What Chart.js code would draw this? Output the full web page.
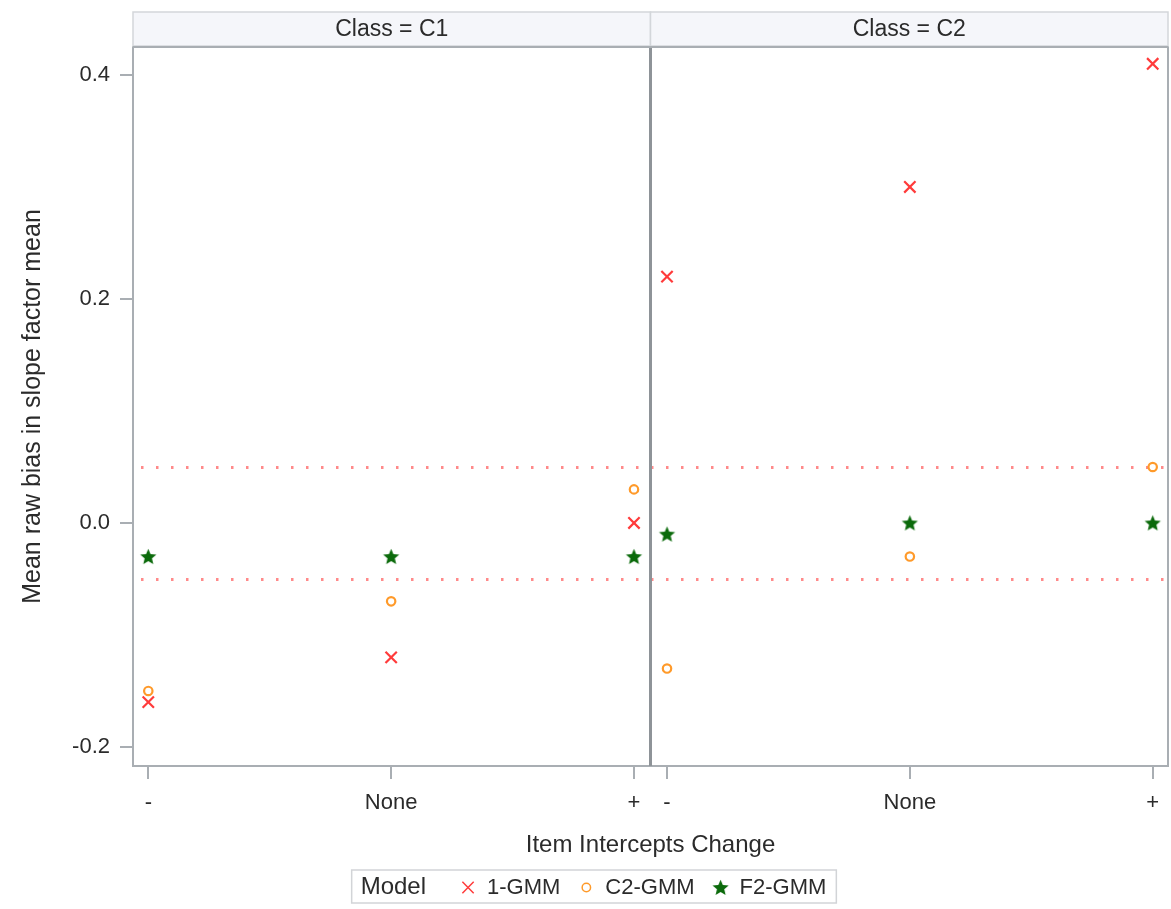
<!DOCTYPE html>
<html>
<head>
<meta charset="utf-8">
<title>Mean raw bias in slope factor mean</title>
<script src="https://cdn.jsdelivr.net/npm/chart.js@4.4.1/dist/chart.umd.min.js"></script>
<style>
  html, body { margin: 0; padding: 0; background: #ffffff; }
  #wrap { position: relative; width: 1171px; height: 909px; }
  canvas { display: block; }
</style>
</head>
<body>
<div id="wrap"><canvas id="chart" width="1171" height="909"></canvas></div>
<script>
// ---- data ----
const panels = ['C1', 'C2'];
const changes = ['-', 'None', '+'];
const yTicks = [-0.2, 0.0, 0.2, 0.4];
const refLines = [-0.05, 0.05];

const gmm1_C1 = [-0.16, -0.12, 0.00];
const gmm1_C2 = [0.22, 0.30, 0.41];
const c2gmm_C1 = [-0.15, -0.07, 0.03];
const c2gmm_C2 = [-0.13, -0.03, 0.05];
const f2gmm_C1 = [-0.03, -0.03, -0.03];
const f2gmm_C2 = [-0.01, 0.00, 0.00];

// ---- layout of the two side-by-side panels on one linear x scale ----
const PANEL_GAP = 0.136;     // space between last category of C1 and first of C2
const EDGE_PAD = 0.063;      // space between panel edge and outer category
const catPos = (panelIdx, catIdx) => catIdx + panelIdx * (changes.length - 1 + PANEL_GAP);
const tickPos = [];
const tickLabels = [];
panels.forEach((p, pi) => changes.forEach((c, ci) => { tickPos.push(catPos(pi, ci)); tickLabels.push(c); }));
const xMin = -EDGE_PAD;
const xMax = catPos(1, changes.length - 1) + EDGE_PAD;
const dividerX = (catPos(0, changes.length - 1) + catPos(1, 0)) / 2;
const panelBounds = [[xMin, dividerX], [dividerX, xMax]];

const FONT = '"Liberation Sans", Arial, Helvetica, sans-serif';
const TEXT = '#2b2b2b';
const AXIS = '#a9aeb3';

// filled five-point star used as a point style
function makeStar(r, color) {
  const s = Math.ceil(r * 2 + 2);
  const c = document.createElement('canvas');
  c.width = s; c.height = s;
  const g = c.getContext('2d');
  g.fillStyle = color;
  g.beginPath();
  for (let i = 0; i < 10; i++) {
    const a = -Math.PI / 2 + i * Math.PI / 5;
    const rr = (i % 2) ? r * 0.45 : r;
    g.lineTo(s / 2 + rr * Math.cos(a), s / 2 + rr * Math.sin(a) + r * 0.08);
  }
  g.closePath();
  g.fill();
  return c;
}
const starImg = makeStar(8.5, '#0b6a0b');

function series(c1, c2) {
  return c1.map((v, i) => ({ x: catPos(0, i), y: v }))
    .concat(c2.map((v, i) => ({ x: catPos(1, i), y: v })));
}

const datasets = [
  {
    label: '1-GMM',
    data: series(gmm1_C1, gmm1_C2),
    pointStyle: 'crossRot', pointRadius: 8, pointBorderWidth: 2.2,
    borderColor: '#ff3b3b', backgroundColor: '#ff3b3b'
  },
  {
    label: 'C2-GMM',
    data: series(c2gmm_C1, c2gmm_C2),
    pointStyle: 'circle', pointRadius: 4.2, pointBorderWidth: 2.2,
    borderColor: '#ff9a2a', backgroundColor: 'rgba(0,0,0,0)'
  },
  {
    label: 'F2-GMM',
    data: series(f2gmm_C1, f2gmm_C2),
    pointStyle: starImg, pointRadius: 9, pointBorderWidth: 0,
    borderColor: '#0b6a0b', backgroundColor: '#0b6a0b'
  }
];

// background, dotted reference lines, panel frame and strip headers
const panelDecor = {
  id: 'panelDecor',
  beforeDraw(chart) {
    const { ctx, width, height } = chart;
    ctx.save();
    ctx.fillStyle = '#ffffff';
    ctx.fillRect(0, 0, width, height);
    ctx.restore();
  },
  beforeDatasetsDraw(chart) {
    const { ctx, chartArea: a, scales: { x, y } } = chart;
    ctx.save();
    ctx.strokeStyle = '#ff8a8a';
    ctx.lineWidth = 3;
    ctx.setLineDash([2.5, 12.5]);
    refLines.forEach(v => {
      const py = Math.round(y.getPixelForValue(v)) + 0.5;
      ctx.beginPath();
      ctx.moveTo(a.left + 8, py);
      ctx.lineTo(a.right, py);
      ctx.stroke();
    });
    ctx.setLineDash([]);
    // frame top and right
    ctx.strokeStyle = AXIS;
    ctx.lineWidth = 2;
    ctx.beginPath();
    ctx.moveTo(a.left, a.top);
    ctx.lineTo(a.right, a.top);
    ctx.lineTo(a.right, a.bottom);
    ctx.stroke();
    // divider between panels
    const dx = x.getPixelForValue(dividerX);
    ctx.strokeStyle = '#8e9398';
    ctx.lineWidth = 3;
    ctx.beginPath();
    ctx.moveTo(dx, a.top);
    ctx.lineTo(dx, a.bottom);
    ctx.stroke();
    // strip headers
    const hTop = 12, hBot = a.top - 1;
    panelBounds.forEach((b, i) => {
      const l = x.getPixelForValue(b[0]);
      const r = x.getPixelForValue(b[1]);
      ctx.fillStyle = '#f5f6fa';
      ctx.fillRect(l, hTop, r - l, hBot - hTop);
      ctx.strokeStyle = '#d3d6da';
      ctx.lineWidth = 1.5;
      ctx.strokeRect(l, hTop, r - l, hBot - hTop);
      ctx.fillStyle = TEXT;
      ctx.font = '23px ' + FONT;
      ctx.textAlign = 'center';
      ctx.textBaseline = 'middle';
      ctx.fillText('Class = ' + panels[i], (l + r) / 2, (hTop + hBot) / 2 + 1);
    });
    ctx.strokeStyle = AXIS;
    ctx.lineWidth = 2;
    ctx.beginPath();
    ctx.moveTo(a.left, a.top);
    ctx.lineTo(a.right, a.top);
    ctx.stroke();
    ctx.restore();
  },
  afterDraw(chart) {
    // legend box with title "Model"
    const { ctx } = chart;
    ctx.save();
    ctx.textBaseline = 'middle';
    ctx.textAlign = 'left';
    ctx.font = '24px ' + FONT;
    const titleW = ctx.measureText('Model').width;
    ctx.font = '22px ' + FONT;
    const padL = 9, padR = 10, titleGap = 42, toText = 19, itemGap = 26;
    const items = chart.data.datasets.map(ds => ({ ds, w: ctx.measureText(ds.label).width }));
    let total = padL + titleW + padR;
    items.forEach((it, i) => { total += (i === 0 ? titleGap : itemGap) + toText + it.w; });
    const cx = 594, top = 870, h = 33;
    const left = cx - total / 2;
    ctx.fillStyle = '#ffffff';
    ctx.fillRect(left, top, total, h);
    ctx.strokeStyle = '#d2d4d7';
    ctx.lineWidth = 1.5;
    ctx.strokeRect(left, top, total, h);
    const my = top + h / 2 + 1;
    let px = left + padL;
    ctx.fillStyle = TEXT;
    ctx.font = '24px ' + FONT;
    ctx.fillText('Model', px, my);
    px += titleW;
    ctx.font = '22px ' + FONT;
    items.forEach((it, i) => {
      const ds = it.ds;
      px += (i === 0 ? titleGap : itemGap);
      ctx.strokeStyle = ds.borderColor;
      ctx.fillStyle = ds.backgroundColor;
      Chart.helpers.drawPoint(ctx, {
        pointStyle: ds.pointStyle, radius: ds.pointRadius,
        borderWidth: ds.pointBorderWidth, rotation: 0
      }, px, my);
      px += toText;
      ctx.fillStyle = TEXT;
      ctx.fillText(ds.label, px, my);
      px += it.w;
    });
    ctx.restore();
  }
};

new Chart(document.getElementById('chart'), {
  type: 'scatter',
  data: { datasets },
  plugins: [panelDecor],
  options: {
    responsive: false,
    animation: false,
    devicePixelRatio: 1,
    layout: { autoPadding: false, padding: { top: 47, right: 3, left: 0, bottom: 0 } },
    plugins: { legend: { display: false }, tooltip: { enabled: false } },
    scales: {
      x: {
        type: 'linear',
        min: xMin,
        max: xMax,
        afterBuildTicks: s => { s.ticks = tickPos.map(v => ({ value: v })); },
        afterFit: s => { s.height = 143; s.paddingLeft = 0; s.paddingRight = 0; },
        ticks: {
          autoSkip: false, maxRotation: 0, minRotation: 0,
          color: TEXT, font: { family: FONT, size: 22 }, padding: 11,
          callback: (v, i) => tickLabels[i]
        },
        grid: { drawOnChartArea: false, drawTicks: true, tickLength: 13, color: AXIS, lineWidth: 2 },
        border: { display: true, color: AXIS, width: 2 },
        title: {
          display: true, text: 'Item Intercepts Change', color: TEXT,
          font: { family: FONT, size: 24 }, padding: { top: 0, bottom: 49 }
        }
      },
      y: {
        min: -0.217,
        max: 0.425,
        afterBuildTicks: s => { s.ticks = yTicks.map(v => ({ value: v })); },
        afterFit: s => { s.width = 133; },
        ticks: {
          color: TEXT, font: { family: FONT, size: 22 }, padding: 10,
          callback: v => v.toFixed(1)
        },
        grid: { drawOnChartArea: false, drawTicks: true, tickLength: 13, color: AXIS, lineWidth: 2 },
        border: { display: true, color: AXIS, width: 2 },
        title: {
          display: true, text: 'Mean raw bias in slope factor mean', color: TEXT,
          font: { family: FONT, size: 25 }, padding: { top: 18, bottom: 0 }
        }
      }
    }
  }
});
</script>
</body>
</html>
